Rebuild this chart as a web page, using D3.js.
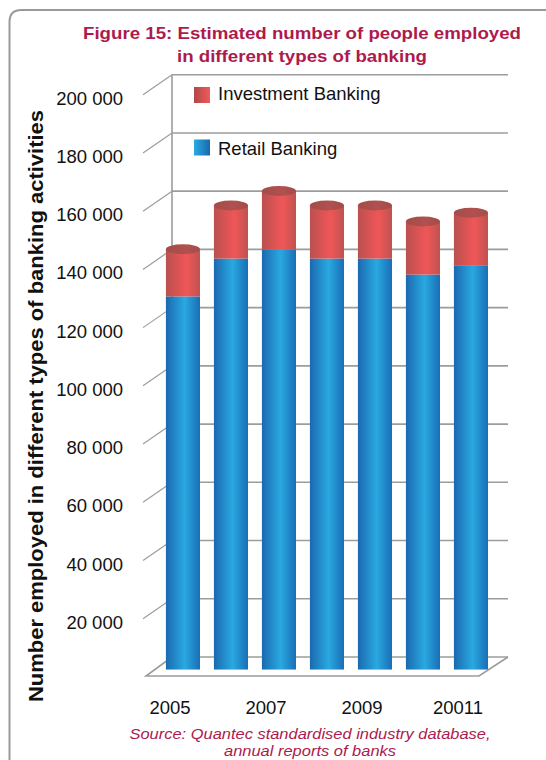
<!DOCTYPE html>
<html>
<head>
<meta charset="utf-8">
<script src="https://cdn.jsdelivr.net/npm/d3@7"></script>
<style>
  html, body { margin: 0; padding: 0; background: #fff; }
  svg { display: block; font-family: "Liberation Sans", Arial, Helvetica, sans-serif; }
</style>
</head>
<body>
<svg id="chart" width="546" height="760"></svg>
<script>
// Employment per banking type, by year (stacked: retail at the bottom)
const categories = ["2005", "2006", "2007", "2008", "2009", "2010", "20011"];
const retail     = [128500, 141500, 144500, 141500, 141500, 136000, 139000];
const investment = [14500, 16500, 18500, 16500, 16500, 16500, 16500];
const yTickValues = [20000, 40000, 60000, 80000, 100000, 120000, 140000, 160000, 180000, 200000];
const seriesNames = ["Investment Banking", "Retail Banking"];
const titleLines = ["Figure 15: Estimated number of people employed", "in different types of banking"];
const sourceLines = ["Source: Quantec standardised industry database,", "annual reports of banks"];
const yTitle = "Number employed in different types of banking activities";

const crimson = "#ad1a4e";
const gridColor = "#9c9c9c";

const svg = d3.select("#chart");
const defs = svg.append("defs");

function hGradient(id, stops) {
  const g = defs.append("linearGradient").attr("id", id)
    .attr("x1", "0%").attr("x2", "100%").attr("y1", "0%").attr("y2", "0%");
  stops.forEach(([o, c]) => g.append("stop").attr("offset", o).attr("stop-color", c));
}
hGradient("blueBody", [["0%", "#1b69af"], ["55%", "#29a9e1"], ["100%", "#1a6db4"]]);
hGradient("redBody", [["0%", "#b9514f"], ["60%", "#f05657"], ["100%", "#bf5350"]]);
hGradient("redCap", [["0%", "#a44c4a"], ["60%", "#b0514e"], ["100%", "#a44c4a"]]);
hGradient("redKey", [["0%", "#b04848"], ["100%", "#f25a5a"]]);
hGradient("blueKey", [["0%", "#2aabe3"], ["100%", "#1a68ae"]]);

// Frame: top and left rules with a rounded corner
svg.append("path")
  .attr("d", "M 9.5 760 L 9.5 22 Q 9.5 10 21.5 10 L 546 10")
  .attr("fill", "none").attr("stroke", "#9a9a9a").attr("stroke-width", 2);

// Title
const titleWidths = [438, 250];
svg.append("g").selectAll("text").data(titleLines).join("text")
  .attr("x", 302).attr("y", (d, i) => 38.5 + i * 23)
  .attr("text-anchor", "middle").attr("fill", crimson)
  .attr("font-size", 17).attr("font-weight", "bold")
  .attr("textLength", (d, i) => titleWidths[i]).attr("lengthAdjust", "spacingAndGlyphs")
  .text(d => d);

// 3D plot geometry: back wall and depth offset of the floor
const wall = { x0: 172, x1: 508 };
const depth = { dx: 29, dy: 19 };
const barDepth = 0.55; // fraction of the depth at which bars stand, measured from the front

const y = d3.scaleLinear().domain([0, 200000]).range([657, 74.7]);
const x = d3.scaleBand().domain(categories)
  .range([wall.x0 - depth.dx, wall.x1 - depth.dx])
  .paddingInner(0.29).paddingOuter(0.145);

const grid = svg.append("g").attr("stroke", gridColor).attr("fill", "none");

// back-wall gridlines
grid.selectAll("line.h").data([0].concat(yTickValues)).join("line")
  .attr("class", "h")
  .attr("x1", wall.x0).attr("x2", wall.x1)
  .attr("y1", d => y(d)).attr("y2", d => y(d))
  .attr("stroke-width", 1.6);

// side-wall slants at each tick
grid.selectAll("line.s").data(yTickValues).join("line")
  .attr("class", "s")
  .attr("x1", wall.x0 - depth.dx).attr("y1", d => y(d) + depth.dy + 1)
  .attr("x2", wall.x0).attr("y2", d => y(d))
  .attr("stroke-width", 1.2);

// back-wall left edge
grid.append("line")
  .attr("x1", wall.x0).attr("x2", wall.x0)
  .attr("y1", y(200000)).attr("y2", y(0))
  .attr("stroke-width", 1.6);

// floor
grid.append("path")
  .attr("d", `M ${wall.x0} ${y(0)} L ${wall.x0 - depth.dx + 3} ${y(0) + depth.dy}
              L ${wall.x1 - depth.dx} ${y(0) + depth.dy} L ${wall.x1} ${y(0)}`)
  .attr("stroke-width", 1.6).attr("stroke-linejoin", "miter");

// tick labels
svg.append("g").selectAll("text").data(yTickValues).join("text")
  .attr("x", 123).attr("y", d => y(d) + depth.dy + 11)
  .attr("text-anchor", "end").attr("font-size", 18.5).attr("fill", "#111")
  .text(d => d3.format(",")(d).replace(/,/g, " "));

// y-axis title
svg.append("text")
  .attr("transform", "translate(43,406) rotate(-90)")
  .attr("text-anchor", "middle").attr("font-size", 19.5).attr("font-weight", "bold")
  .attr("fill", "#111")
  .attr("textLength", 592).attr("lengthAdjust", "spacingAndGlyphs")
  .text(yTitle);

// category labels on the front edge (every other year)
svg.append("g").selectAll("text")
  .data(categories.filter((d, i) => i % 2 === 0)).join("text")
  .attr("x", d => x(d) + x.bandwidth() / 2 + 3)
  .attr("y", 714)
  .attr("text-anchor", "middle").attr("font-size", 18.5).attr("fill", "#111")
  .text(d => d);

// bars: cylinders standing at barDepth behind the front edge
const bx = d => x(d) + depth.dx * barDepth;
const by = v => y(v) + depth.dy * (1 - barDepth);
const rx = x.bandwidth() / 2;
const ry = 5;

const rows = categories.map((c, i) => ({ c, r: retail[i], t: retail[i] + investment[i] }));
const bars = svg.append("g").selectAll("g").data(rows).join("g");

bars.append("rect")
  .attr("x", d => bx(d.c)).attr("width", x.bandwidth())
  .attr("y", d => by(d.r) + ry)
  .attr("height", d => by(0) + ry - (by(d.r) + ry) - 1)
  .attr("fill", "url(#blueBody)");

bars.append("rect")
  .attr("x", d => bx(d.c)).attr("width", x.bandwidth())
  .attr("y", d => by(d.t))
  .attr("height", d => by(d.r) + ry - by(d.t))
  .attr("fill", "url(#redBody)");

bars.append("ellipse")
  .attr("cx", d => bx(d.c) + rx).attr("cy", d => by(d.t))
  .attr("rx", rx).attr("ry", ry)
  .attr("fill", "url(#redCap)");

// legend
const legend = svg.append("g");
const keys = [
  { name: seriesNames[0], fill: "url(#redKey)", sy: 87, ty: 100 },
  { name: seriesNames[1], fill: "url(#blueKey)", sy: 139.5, ty: 155 }
];
legend.selectAll("rect").data(keys).join("rect")
  .attr("x", 194).attr("y", d => d.sy).attr("width", 16).attr("height", 16)
  .attr("fill", d => d.fill);
legend.selectAll("text").data(keys).join("text")
  .attr("x", 218).attr("y", d => d.ty)
  .attr("font-size", 18.5).attr("fill", "#111")
  .text(d => d.name);

// source note
const sourceWidths = [361, 172];
svg.append("g").selectAll("text").data(sourceLines).join("text")
  .attr("x", 310).attr("y", (d, i) => 739 + i * 17)
  .attr("text-anchor", "middle").attr("fill", crimson)
  .attr("font-size", 15.5).attr("font-style", "italic")
  .attr("textLength", (d, i) => sourceWidths[i]).attr("lengthAdjust", "spacingAndGlyphs")
  .text(d => d);
</script>
</body>
</html>
